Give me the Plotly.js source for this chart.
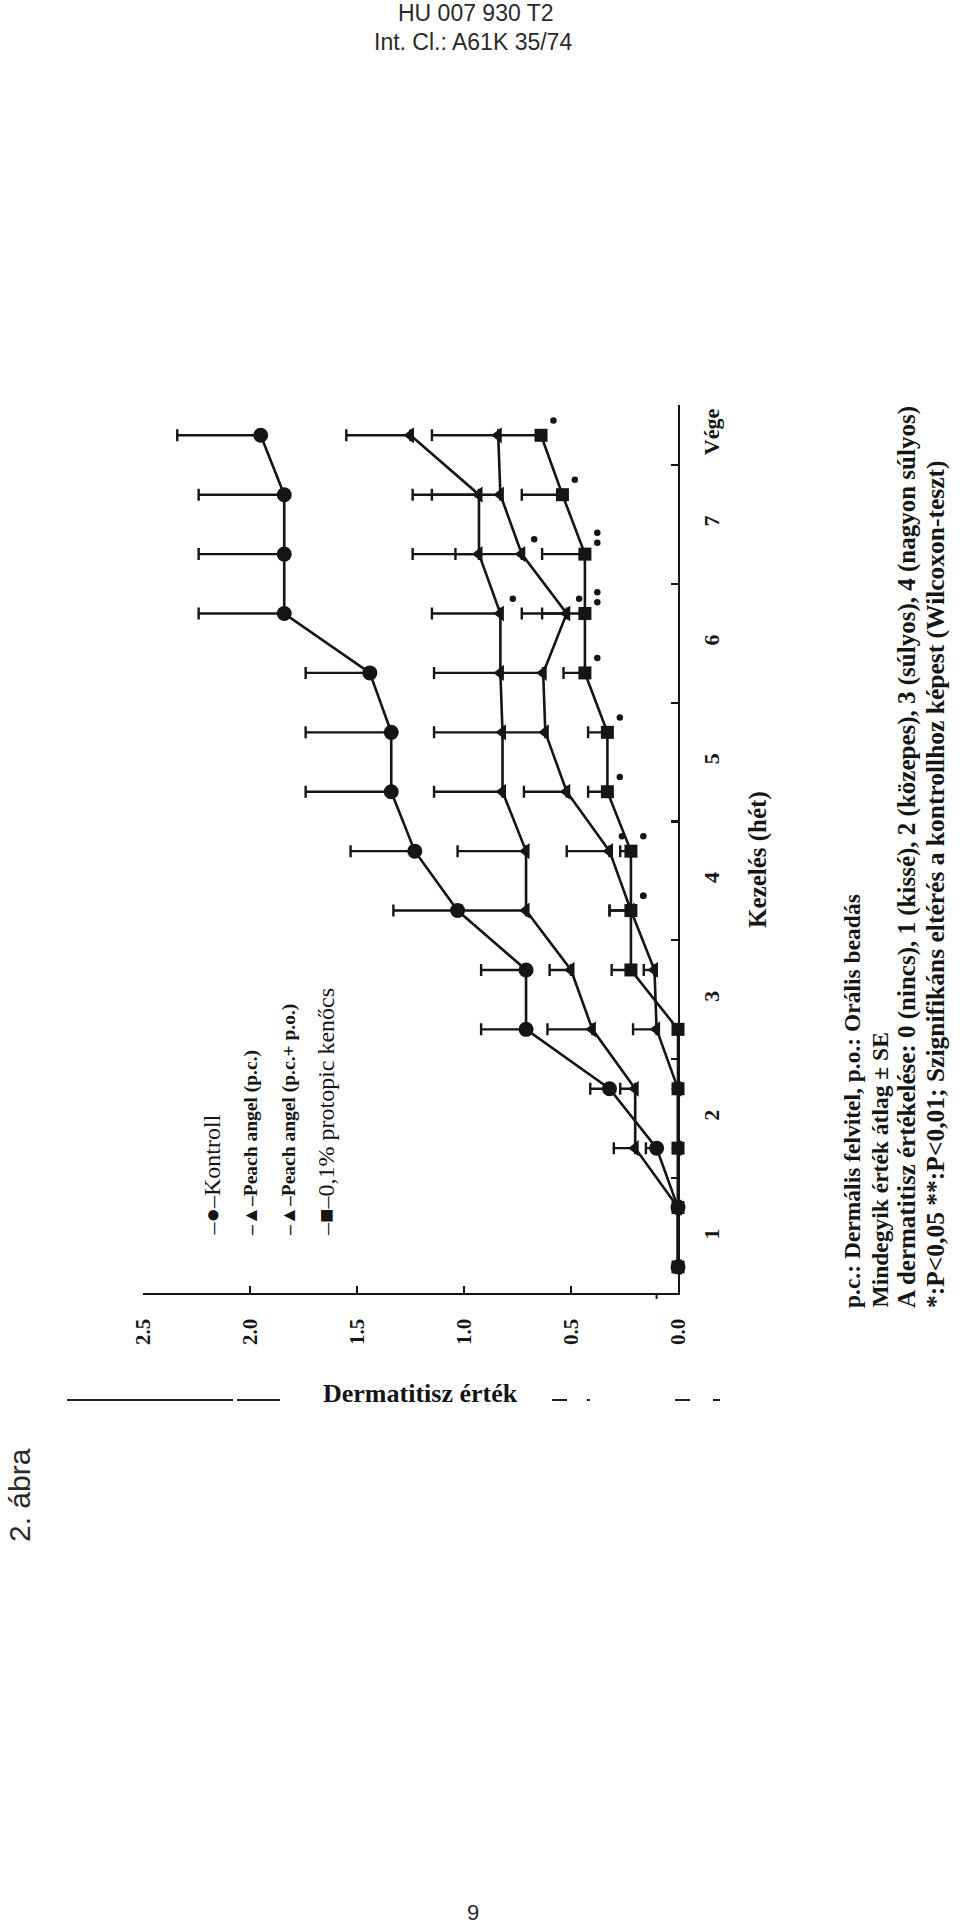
<!DOCTYPE html>
<html>
<head>
<meta charset="utf-8">
<script src="https://cdn.plot.ly/plotly-3.0.1.min.js"></script>
<style>
html,body{margin:0;padding:0;background:#fff;}
#chart{width:960px;height:1930px;}
</style>
</head>
<body>
<div id="chart"></div>
<script>
// ---- data (row index 0..14: two measurements per week 1..7, then "Vége") ----
const rowPos = [0,1,2,3,4,5,6,7,8,9,10,11,12,13,14];
const weekTickPos = [0.5,2.5,4.5,6.5,8.5,10.5,12.5,14];
const weekTickText = ['1','2','3','4','5','6','7','Vége'];
const valueTicks = [0,0.5,1,1.5,2,2.5];
const valueTickText = ['0.0','0.5','1.0','1.5','2.0','2.5'];

const kontroll   = [0,0,0.10,0.32,0.71,0.71,1.03,1.23,1.34,1.34,1.44,1.84,1.84,1.84,1.95];
const kontrollSE = [0,0,0.05,0.09,0.21,0.21,0.30,0.30,0.40,0.40,0.30,0.40,0.40,0.40,0.39];

const peachPc    = [0,0,0.20,0.20,0.40,0.50,0.71,0.71,0.82,0.82,0.83,0.83,0.93,0.93,1.25];
const peachPcSE  = [0,0,0.10,0.07,0.21,0.10,0.30,0.32,0.32,0.32,0.31,0.32,0.31,0.31,0.30];

const peachPcPo   = [0,0,0,0,0.10,0.11,0.22,0.32,0.52,0.62,0.63,0.52,0.73,0.83,0.84];
const peachPcPoSE = [0,0,0,0,0.11,0.05,0.10,0.20,0.20,0.20,0.20,0.21,0.31,0.32,0.31];

const protopic   = [0,0,0,0,0,0.22,0.22,0.22,0.33,0.33,0.435,0.435,0.435,0.54,0.64];
const protopicSE = [0,0,0,0,0,0.09,0.10,0.05,0.09,0.09,0.10,0.20,0.20,0.19,0.20];

// significance marks (* p<0.05, ** p<0.01) per row
const sigPeachPc   = ['','','','','','','','','','','','*','','',''];
const sigPeachPcPo = ['','','','','','','*','*','','','','*','*','',''];
const sigProtopic  = ['','','','','*','','*','*','*','*','*','**','**','*','*'];

const seriesNames = ['Kontroll','Peach angel (p.c.)','Peach angel (p.c.+ p.o.)','0,1% protopic kenőcs'];
const footnotes = [
  'p.c.: Dermális felvitel, p.o.: Orális beadás',
  'Mindegyik érték átlag ± SE',
  'A dermatitisz értékelése: 0 (nincs), 1 (kissé), 2 (közepes), 3 (súlyos), 4 (nagyon súlyos)',
  '*:P<0,05 **:P<0,01; Szignifikáns eltérés a kontrollhoz képest (Wilcoxon-teszt)'
];

// ---- geometry helpers (page pixels -> paper) ----
const L = 143, R = 678, T = 405, B = 1293;
function px(x){ return (x - L)/(R - L); }
function py(y){ return (B - y)/(B - T); }

const INK = '#151515';
const zeros = rowPos.map(()=>0);
function series(vals, se, name, symbol, size){
  return {
    type:'scatter', mode:'lines+markers', name:name,
    x: vals, y: rowPos,
    line:{color:INK, width:2.6},
    marker:{symbol:symbol, size:size, color:INK, line:{width:0}},
    error_x:{type:'data', symmetric:false, array:se, arrayminus:zeros, color:INK, thickness:2.4, width:6},
    cliponaxis:false, hoverinfo:'x+y'
  };
}
const traces = [
  series(kontroll, kontrollSE, seriesNames[0], 'circle', 15),
  series(peachPc, peachPcSE, seriesNames[1], 'triangle-left', 14),
  series(peachPcPo, peachPcPoSE, seriesNames[2], 'triangle-left', 14),
  series(protopic, protopicSE, seriesNames[3], 'square', 13)
];

// significance dots
const dotX = [], dotY = [];
[[peachPc, sigPeachPc],[peachPcPo, sigPeachPcPo],[protopic, sigProtopic]].forEach(([vals, sig])=>{
  sig.forEach((s,i)=>{
    const n = s.length;
    for(let j=0;j<n;j++){
      dotX.push(vals[i] - 0.058);
      dotY.push(rowPos[i] + (n===1 ? 0.25 : 0.19 + 0.17*j));
    }
  });
});
traces.push({type:'scatter', mode:'markers', x:dotX, y:dotY, marker:{size:6.5, color:INK}, cliponaxis:false, showlegend:false, hoverinfo:'skip'});

const serif = 'Liberation Serif, Times New Roman, serif';
const sans = 'Liberation Sans, Arial, sans-serif';
const ann = [];
function A(text, x, y, o){
  ann.push(Object.assign({text:text, x:px(x), y:py(y), xref:'paper', yref:'paper', showarrow:false, xanchor:'center', yanchor:'middle'}, o));
}

// page furniture
A('HU 007 930 T2', 476, 13, {font:{family:sans, size:23, color:'#2a2a2a'}});
A('Int. Cl.: A61K 35/74', 473, 42, {font:{family:sans, size:23, color:'#2a2a2a'}});
A('9', 473, 1912, {font:{family:sans, size:22, color:'#2a2a2a'}});
A('2. ábra', 19, 1495, {textangle:-90, font:{family:sans, size:30, color:'#2a2a2a'}});

// axis titles
A('Dermatitisz érték', 420, 1393, {font:{family:serif, size:26, weight:'bold', color:INK}});
A('Kezelés (hét)', 758, 860, {textangle:-90, font:{family:serif, size:25, weight:'bold', color:INK}});

// legend (rotated like the chart)
const legSyms = ['–●–','–▲–','–▲–','–■–'];
const legX = [211, 251, 289, 326];
const legSize = [24, 19.5, 19.5, 24];
const legWeight = ['normal','bold','bold','normal'];
seriesNames.forEach((n,i)=>{
  A(legSyms[i] + n, legX[i], 1238, {textangle:-90, yanchor:'bottom', font:{family:serif, size:legSize[i], weight:legWeight[i], color:INK}});
});

// footnotes
const fnX = [852, 879, 907, 935];
const fnSize = [23.5, 23.5, 25, 25.5];
footnotes.forEach((t,i)=>{
  A(t, fnX[i], 1310, {textangle:-90, yanchor:'bottom', font:{family:serif, size:fnSize[i], weight:'bold', color:INK}});
});

// scan-border fragments near the axis title and a stray tick
const shapes = [];
function H(x0,x1,y,w){ shapes.push({type:'line', xref:'paper', yref:'paper', x0:px(x0), x1:px(x1), y0:py(y), y1:py(y), line:{color:'#222', width:w||2}}); }
H(67,233,1400,2); H(237,280,1400,2); H(552,567,1400,2); H(587,590,1400,2); H(675,690,1400,2); H(713,720,1400,2);
shapes.push({type:'line', xref:'x', yref:'paper', x0:0.1, x1:0.1, y0:0, y1:py(1299), line:{color:INK, width:2}});

const layout = {
  width:960, height:1930,
  margin:{l:L, r:960-R, t:T, b:1930-B, pad:0},
  paper_bgcolor:'#fff', plot_bgcolor:'#fff',
  showlegend:false,
  xaxis:{
    range:[2.5,0], showgrid:false, zeroline:false,
    showline:true, linecolor:INK, linewidth:2.4,
    tickmode:'array', tickvals:valueTicks, ticktext:valueTickText,
    ticks:'inside', ticklen:7, tickwidth:2.2, tickcolor:INK,
    tickangle:-90, ticklabelstandoff:15,
    tickfont:{family:serif, size:21, weight:'bold', color:INK}
  },
  yaxis:{
    range:[-0.438, 14.51], side:'right', showgrid:false, zeroline:false,
    showline:true, linecolor:INK, linewidth:2.4,
    tickmode:'array', tickvals:weekTickPos, ticktext:weekTickText,
    ticks:'', tickangle:-90, ticklabelstandoff:12,
    tickfont:{family:serif, size:22, weight:'bold', color:INK},
    minor:{tick0:1.5, dtick:2, ticks:'inside', ticklen:7, tickwidth:2.2, tickcolor:INK, showgrid:false}
  },
  annotations:ann,
  shapes:shapes
};
Plotly.newPlot('chart', traces, layout, {staticPlot:true, displayModeBar:false});
</script>
</body>
</html>
